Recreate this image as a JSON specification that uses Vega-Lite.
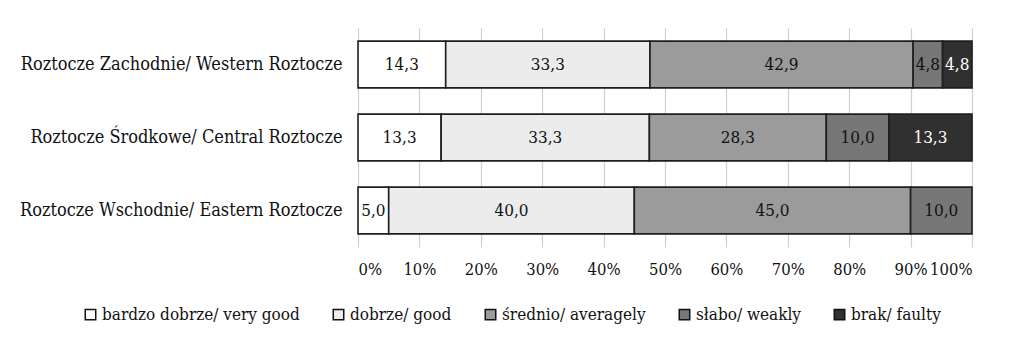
{
  "$schema": "https://vega.github.io/schema/vega-lite/v6.json",
  "width": 614,
  "height": 219,
  "autosize": "none",
  "padding": {"left": 358, "top": 28, "right": 52, "bottom": 101},
  "background": "white",
  "config": {
    "font": "DejaVu Serif Condensed, DejaVu Serif",
    "view": {"stroke": null},
    "locale": {"number": {"decimal": ",", "thousands": " ", "grouping": [3], "currency": ["", " zł"]}}
  },
  "data": {
    "values": [
      {"region": "Roztocze Zachodnie/ Western Roztocze", "cat": "bardzo dobrze/ very good", "o": 1, "v": 14.3},
      {"region": "Roztocze Zachodnie/ Western Roztocze", "cat": "dobrze/ good", "o": 2, "v": 33.3},
      {"region": "Roztocze Zachodnie/ Western Roztocze", "cat": "średnio/ averagely", "o": 3, "v": 42.9},
      {"region": "Roztocze Zachodnie/ Western Roztocze", "cat": "słabo/ weakly", "o": 4, "v": 4.8},
      {"region": "Roztocze Zachodnie/ Western Roztocze", "cat": "brak/ faulty", "o": 5, "v": 4.8},
      {"region": "Roztocze Środkowe/ Central Roztocze", "cat": "bardzo dobrze/ very good", "o": 1, "v": 13.3},
      {"region": "Roztocze Środkowe/ Central Roztocze", "cat": "dobrze/ good", "o": 2, "v": 33.3},
      {"region": "Roztocze Środkowe/ Central Roztocze", "cat": "średnio/ averagely", "o": 3, "v": 28.3},
      {"region": "Roztocze Środkowe/ Central Roztocze", "cat": "słabo/ weakly", "o": 4, "v": 10.0},
      {"region": "Roztocze Środkowe/ Central Roztocze", "cat": "brak/ faulty", "o": 5, "v": 13.3},
      {"region": "Roztocze Wschodnie/ Eastern Roztocze", "cat": "bardzo dobrze/ very good", "o": 1, "v": 5.0},
      {"region": "Roztocze Wschodnie/ Eastern Roztocze", "cat": "dobrze/ good", "o": 2, "v": 40.0},
      {"region": "Roztocze Wschodnie/ Eastern Roztocze", "cat": "średnio/ averagely", "o": 3, "v": 45.0},
      {"region": "Roztocze Wschodnie/ Eastern Roztocze", "cat": "słabo/ weakly", "o": 4, "v": 10.0}
    ]
  },
  "transform": [
    {"stack": "v", "groupby": ["region"], "sort": [{"field": "o", "order": "ascending"}], "offset": "normalize", "as": ["s0", "s1"]},
    {"calculate": "(datum.s0 + datum.s1) / 2", "as": "mid"}
  ],
  "encoding": {
    "y": {
      "field": "region", "type": "nominal", "sort": null,
      "scale": {"paddingInner": 0.36, "paddingOuter": 0.18},
      "axis": {"title": null, "domain": false, "ticks": false, "labelFont": "DejaVu Serif Condensed, DejaVu Serif", "labelFontSize": 18, "labelColor": "#111", "labelPadding": 16, "labelLimit": 400}
    }
  },
  "layer": [
    {
      "mark": {"type": "bar", "stroke": "#1e1e1e", "strokeWidth": 1.6},
      "encoding": {
        "x": {
          "field": "s0", "type": "quantitative",
          "scale": {"domain": [0, 1], "nice": false},
          "axis": {"title": null, "format": ".0%", "values": [0,0.1,0.2,0.3,0.4,0.5,0.6,0.7,0.8,0.9,1], "domain": false, "ticks": false, "grid": true, "gridColor": "#cfcfcf", "gridWidth": 1.2, "labelFont": "DejaVu Serif Condensed, DejaVu Serif", "labelFontSize": 16.5, "labelColor": "#111", "labelPadding": 14}
        },
        "x2": {"field": "s1"},
        "color": {
          "field": "cat", "type": "nominal",
          "scale": {
            "domain": ["bardzo dobrze/ very good", "dobrze/ good", "średnio/ averagely", "słabo/ weakly", "brak/ faulty"],
            "range": ["#ffffff", "#ececec", "#9b9b9b", "#777777", "#303030"]
          },
          "legend": {
            "title": null, "orient": "none", "direction": "horizontal",
            "legendX": -276, "legendY": 278, "padding": 0,
            "symbolType": "square", "symbolSize": 110, "symbolStrokeColor": "#111", "symbolStrokeWidth": 1.5,
            "labelFont": "DejaVu Serif Condensed, DejaVu Serif", "labelFontSize": 17, "labelColor": "#111", "labelOffset": 3, "columnPadding": 30, "labelLimit": 400
          }
        }
      }
    },
    {
      "mark": {"type": "text", "fontSize": 17, "font": "DejaVu Serif Condensed, DejaVu Serif"},
      "encoding": {
        "x": {"field": "mid", "type": "quantitative"},
        "text": {"field": "v", "type": "quantitative", "format": ".1f"},
        "color": {"condition": {"test": "datum.cat === 'brak/ faulty'", "value": "#ffffff"}, "value": "#111111"}
      }
    }
  ]
}
